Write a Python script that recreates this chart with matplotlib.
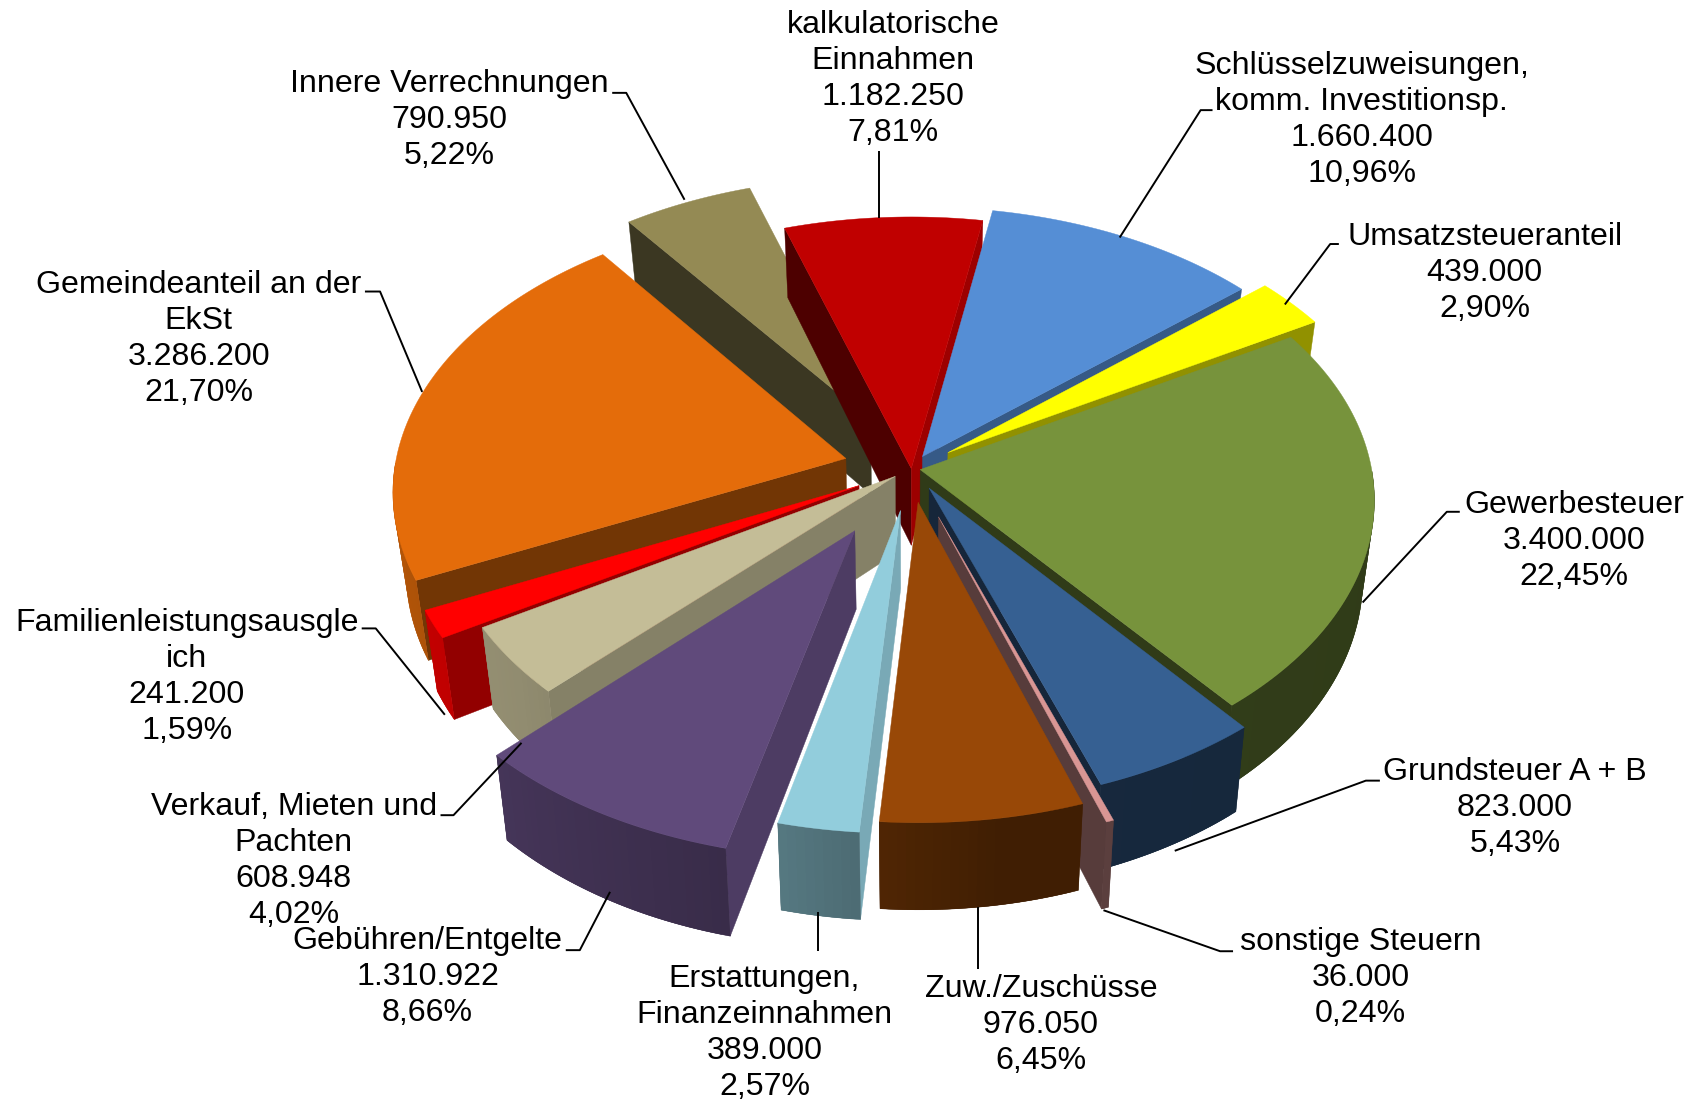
import numpy as np
import matplotlib
matplotlib.use("Agg")
import matplotlib.pyplot as plt
from matplotlib.patches import Polygon
from matplotlib.colors import to_rgb

# Haushalt: Einnahmen, im Uhrzeigersinn ab Gewerbesteuer
labels = ["Gewerbesteuer", "Grundsteuer A + B", "sonstige Steuern", "Zuw./Zuschüsse",
          "Erstattungen,\nFinanzeinnahmen", "Gebühren/Entgelte", "Verkauf, Mieten und\nPachten",
          "Familienleistungsausgle\nich", "Gemeindeanteil an der\nEkSt", "Innere Verrechnungen",
          "kalkulatorische\nEinnahmen", "Schlüsselzuweisungen,\nkomm. Investitionsp.", "Umsatzsteueranteil"]
values = [3400000, 823000, 36000, 976050, 389000, 1310922, 608948,
          241200, 3286200, 790950, 1182250, 1660400, 439000]
colors = ["#77933C", "#366092", "#D99694", "#984807", "#92CDDC", "#604A7B", "#C4BD97",
          "#FF0000", "#E46C0A", "#948A54", "#C00000", "#558ED5", "#FFFF00"]
explode = [0.02, 0.08, 0.18, 0.12, 0.15, 0.25, 0.045, 0.13, 0.15, 0.20, 0.0, 0.05, 0.10]

# Zeichenreihenfolge von hinten nach vorne
draw_order = [9, 10, 11, 12, 8, 0, 1, 2, 7, 6, 5, 4, 3]

W, H = 1693, 1103
S = W / 1568.0
cx, cy = 844 * S, 434 * S
Rx, Ry = 418 * S, 258 * S
k = 0.107
depth = 71 * S
start = 30.0

# Schattierung, je Richtung der Aussenflaeche
arc_a = [-180, -140, -105, -95, -80, 0]
arc_f = [0.80, 0.74, 0.60, 0.53, 0.42, 0.40]
cut_a = [-180, -140, -65, -60, -50, -45, -10, 0]
cut_f = [0.40, 0.40, 0.50, 0.57, 0.63, 0.68, 0.82, 0.83]


def proj(u, v, bottom=False):
    s = 1 / (1 + k * v)
    x = cx + Rx * u * s
    y = cy - Ry * v * s
    if bottom:
        x = cx + (x - cx) * 0.975
        y = y + depth * s
    return x, y


def shade(col, f):
    return tuple(c * f for c in to_rgb(col))


def wrap(a):
    return (a + 180) % 360 - 180


def poly(ax, pts, col, lw=0.3):
    ax.add_patch(Polygon(pts, closed=True, facecolor=col, edgecolor=col, lw=lw))


fig = plt.figure(figsize=(W / 100, H / 100), dpi=100)
ax = fig.add_axes([0, 0, 1, 1])
ax.set_xlim(0, W)
ax.set_ylim(H, 0)
ax.axis("off")

vals = np.array(values, dtype=float)
shares = vals / vals.sum()
ends = start - np.cumsum(shares) * 360
starts = ends + shares * 360

for i in draw_order:
    a, b = starts[i], ends[i]
    mid = np.radians((a + b) / 2)
    ou = explode[i] * np.cos(mid)
    ov = explode[i] * np.sin(mid)
    th = np.radians(np.linspace(a, b, max(int(a - b) + 1, 3)))
    us = ou + np.cos(th)
    vs = ov + np.sin(th)

    # Schnittflaechen
    for edge, normal in ((a, a + 90), (b, b - 90)):
        n = wrap(normal)
        if n < 0:
            e = np.radians(edge)
            u1, v1 = ou + np.cos(e), ov + np.sin(e)
            f = np.interp(n, cut_a, cut_f)
            poly(ax, [proj(ou, ov), proj(u1, v1), proj(u1, v1, True), proj(ou, ov, True)],
                 shade(colors[i], f))

    # Aussenflaeche: Grundflaeche, darueber Streifen, die sich ueberlappen
    seen = [j for j in range(len(th)) if wrap(np.degrees(th[j])) < 0]
    if len(seen) > 1:
        rim = [proj(us[j], vs[j]) for j in seen] + [proj(us[j], vs[j], True) for j in seen[::-1]]
        mean_f = np.interp(wrap(np.degrees(th[seen[len(seen) // 2]])), arc_a, arc_f)
        poly(ax, rim, shade(colors[i], mean_f))
        for j, j2 in zip(seen[:-1], seen[1:]):
            f = np.interp(wrap(np.degrees(th[j])), arc_a, arc_f)
            j3 = min(j2 + 1, seen[-1])
            poly(ax, [proj(us[j], vs[j]), proj(us[j3], vs[j3]),
                      proj(us[j3], vs[j3], True), proj(us[j], vs[j], True)],
                 shade(colors[i], f), lw=0)

    # Deckflaeche
    top = [proj(ou, ov)] + [proj(u, v) for u, v in zip(us, vs)]
    poly(ax, top, colors[i])

# Beschriftung: Mitte des Textblocks, Bezugslinie
label_pos = [(1458, 501), (1403, 748), (1260, 906), (964, 949), (708, 957), (396, 905), (272, 797),
             (173, 627), (184, 314), (416, 111), (827, 73), (1261, 111), (1375, 253)]
leaders = [
    [(1352, 474), (1340, 474), (1262, 558)],
    [(1278, 723), (1265, 723), (1088, 788)],
    [(1142, 881), (1130, 881), (1022, 843)],
    [(906, 840), (906, 897)],
    [(758, 845), (758, 881)],
    [(524, 880), (537, 880), (565, 826)],
    [(408, 755), (420, 755), (483, 688)],
    [(335, 582), (348, 582), (412, 662)],
    [(338, 270), (352, 270), (391, 363)],
    [(567, 86), (580, 86), (634, 185)],
    [(814, 140), (814, 202)],
    [(1123, 102), (1112, 102), (1037, 220)],
    [(1240, 226), (1232, 226), (1190, 282)],
]

for i, name in enumerate(labels):
    line = np.array(leaders[i]) * S
    ax.plot(line[:, 0], line[:, 1], color="black", lw=1.4, solid_capstyle="butt")
    money = f"{values[i]:,}".replace(",", ".")
    pct = f"{shares[i] * 100:.2f}%".replace(".", ",")
    ax.text(label_pos[i][0] * S, label_pos[i][1] * S, f"{name}\n{money}\n{pct}",
            ha="center", va="center", ma="center", fontsize=23.1,
            family="Liberation Sans", linespacing=1.26, color="black")

fig.savefig("out.png", dpi=100)
